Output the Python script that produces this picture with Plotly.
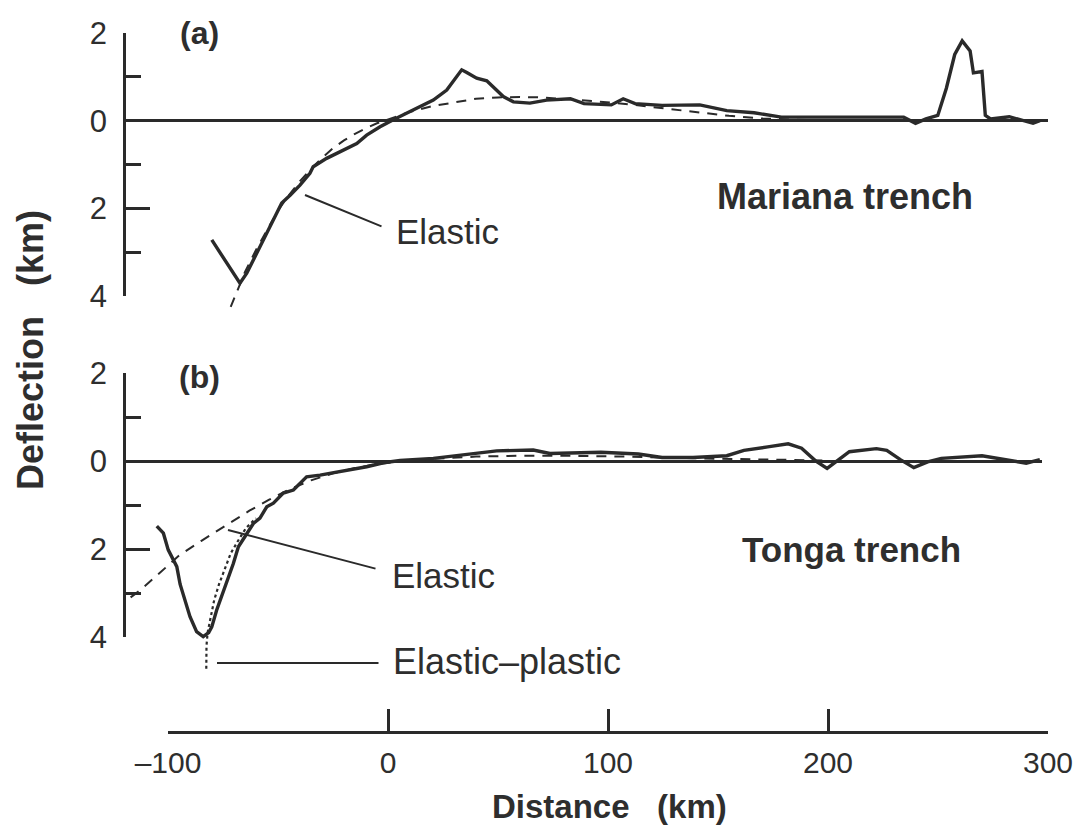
import plotly.graph_objects as go

# ---------------- data ----------------
# Panel (a) Mariana trench: observed profile (km distance, km deflection; positive = down)
mariana_x = [-80.1, -67.3, -64.2, -59.7, -56.7, -52.1, -48.3, -44.5, -40.0, -35.5, -34.0, -27.9,
             -21.8, -14.2, -9.7, -3.6, 2.4, 8.5, 14.5, 20.6, 26.7, 30.5, 33.5, 35.8, 40.3, 44.9,
             47.9, 52.4, 57.0, 64.5, 72.1, 82.9, 89.1, 101.5, 106.9, 112.3, 124.6, 141.7, 154.0,
             166.4, 178.8, 206.6, 234.4, 239.8, 244.5, 249.9, 253.8, 257.6, 261.0, 264.6, 266.1,
             270.0, 271.5, 273.9, 282.4, 293.2, 296.3]
mariana_y = [2.72, 3.71, 3.48, 3.03, 2.72, 2.30, 1.88, 1.70, 1.47, 1.20, 1.05, 0.86,
             0.71, 0.52, 0.33, 0.14, -0.02, -0.17, -0.32, -0.47, -0.70, -0.97, -1.16, -1.10, -0.97, -0.91,
             -0.76, -0.55, -0.43, -0.40, -0.47, -0.50, -0.39, -0.36, -0.50, -0.39, -0.35, -0.36, -0.23,
             -0.18, -0.08, -0.08, -0.08, 0.06, -0.04, -0.12, -0.74, -1.51, -1.82, -1.59, -1.09,
             -1.12, -0.12, -0.04, -0.09, 0.06, 0.00]

# Panel (a) elastic model (dashed)
mariana_elastic_x = [-71.5, -68, -65, -60, -55, -50, -45, -40, -35, -30, -25, -20, -15, -10, -5, 0,
                     10, 20, 30, 40, 50, 60, 70, 80, 95, 110, 125, 140, 155, 170, 185, 200]
mariana_elastic_y = [4.25, 3.8, 3.45, 2.95, 2.5, 2.05, 1.7, 1.38, 1.1, 0.85, 0.63, 0.45, 0.3, 0.17, 0.06, -0.03,
                     -0.2, -0.33, -0.42, -0.5, -0.53, -0.54, -0.53, -0.5, -0.44, -0.37, -0.28, -0.19, -0.11, -0.05, -0.02, 0.0]

# Panel (b) Tonga trench: observed profile
tonga_x = [-105.1, -102.1, -99.9, -97.6, -96.0, -94.5, -92.0, -90.0, -87.0, -84.0, -81.5, -80.1,
           -77.9, -75.5, -73.3, -70.3, -68.0, -64.2, -61.2, -58.2, -55.1, -52.1, -47.6, -43.0,
           -37.0, -30.9, -21.8, -9.7, -2.1, 5.5, 20.6, 28.2, 35.8, 49.4, 66.0, 73.6, 96.8, 113.8,
           124.6, 138.6, 154.0, 161.8, 172.6, 181.9, 188.0, 194.2, 199.6, 205.0, 209.7, 222.0,
           226.7, 232.9, 239.0, 245.3, 251.5, 270.0, 279.3, 290.1, 296.3]
tonga_y = [1.48, 1.64, 2.02, 2.25, 2.40, 2.80, 3.20, 3.54, 3.88, 3.99, 3.90, 3.77,
           3.39, 3.05, 2.78, 2.33, 1.95, 1.64, 1.42, 1.30, 1.04, 0.96, 0.73, 0.66,
           0.36, 0.32, 0.24, 0.13, 0.04, -0.01, -0.06, -0.10, -0.14, -0.23, -0.25, -0.17, -0.20, -0.16,
           -0.08, -0.08, -0.12, -0.24, -0.32, -0.39, -0.29, -0.01, 0.17, -0.03, -0.21, -0.28,
           -0.24, -0.03, 0.15, 0.02, -0.06, -0.12, -0.05, 0.05, -0.03]

# Panel (b) elastic model (dashed)
tonga_elastic_x = [-117, -113, -105, -95, -85, -75, -63, -54, -45, -35, -25, -15, -5, 5, 20, 40, 60, 80,
                   110, 140, 170, 200]
tonga_elastic_y = [3.1, 2.95, 2.6, 2.15, 1.82, 1.5, 1.13, 0.88, 0.65, 0.44, 0.28, 0.16, 0.07, 0.01, -0.05,
                   -0.1, -0.12, -0.12, -0.1, -0.06, -0.03, -0.01]

# Panel (b) elastic-plastic model (dotted)
tonga_ep_x = [-82.6, -82.5, -82.0, -80.5, -79.0, -76.8, -74.5, -71.5, -68.0, -64.5, -60.0]
tonga_ep_y = [4.72, 4.2, 3.9, 3.55, 3.16, 2.8, 2.5, 2.1, 1.8, 1.52, 1.3]

# axis ticks
x_tickvals = [-100, 0, 100, 200, 300]
x_ticktext = ["\u2013100", "0", "100", "200", "300"]
y_tickvals = [-2, 0, 2, 4]
y_ticktext = ["2", "0", "2", "4"]

# ---------------- layout helpers (pixel geometry) ----------------
W, H = 1081, 827
X0_PX, X_SCALE = 388.0, 2.2          # px of x=0, px per km
A0_PX, A_SCALE = 120.67, 43.83       # panel a: px of y=0, px per km
B0_PX, B_SCALE = 461.0, 44.0         # panel b

def fx(px):
    return px / W

def fy(py):
    return 1 - py / H

def xdata(px):
    return (px - X0_PX) / X_SCALE

def ydom(py_top, py_bot):
    return [fy(py_bot), fy(py_top)]

INK = "#2a2a2a"
TXT = "#2e2e2e"
FONT = "Liberation Sans, Arial, sans-serif"
DASH = "10px,8px"

fig = go.Figure()

common = dict(mode="lines", showlegend=False, hoverinfo="skip", xaxis="x")
fig.add_trace(go.Scatter(x=mariana_elastic_x, y=mariana_elastic_y, yaxis="y3",
                         line=dict(color=INK, width=2, dash=DASH), **common))
fig.add_trace(go.Scatter(x=mariana_x, y=mariana_y, yaxis="y3",
                         line=dict(color=INK, width=3.4), **common))
fig.add_trace(go.Scatter(x=tonga_elastic_x, y=tonga_elastic_y, yaxis="y4",
                         line=dict(color=INK, width=2, dash=DASH), **common))
fig.add_trace(go.Scatter(x=tonga_ep_x, y=tonga_ep_y, yaxis="y4",
                         line=dict(color=INK, width=2.2, dash="dot"), **common))
fig.add_trace(go.Scatter(x=tonga_x, y=tonga_y, yaxis="y4",
                         line=dict(color=INK, width=3.4), **common))
# empty traces so the visible axes are drawn
fig.add_trace(go.Scatter(x=[None], y=[None], yaxis="y", **common))
fig.add_trace(go.Scatter(x=[None], y=[None], yaxis="y2", **common))
fig.add_trace(go.Scatter(x=[None], y=[None], mode="lines", xaxis="x2", yaxis="y",
                         showlegend=False, hoverinfo="skip"))

xl_px, xr_px = 126, 1042

def vis_y(dom):
    return dict(domain=dom, range=[4, -2], anchor="x", automargin=False,
                showline=True, linecolor=INK, linewidth=2.5,
                ticks="inside", ticklen=24, tickwidth=2.5, tickcolor=INK,
                tickmode="array", tickvals=y_tickvals, ticktext=y_ticktext,
                tickfont=dict(family=FONT, size=31, color=TXT), ticklabelstandoff=10,
                showgrid=False, zeroline=True, zerolinecolor=INK, zerolinewidth=2.5,
                minor=dict(ticks="inside", ticklen=15, tickwidth=2.5, tickcolor=INK,
                           tickmode="linear", tick0=0, dtick=1, showgrid=False))

def data_y(py_top, py_bot, zero_px, scale):
    return dict(domain=ydom(py_top, py_bot),
                range=[(py_bot - zero_px) / scale, (py_top - zero_px) / scale],
                anchor="x", visible=False, showgrid=False, zeroline=False, automargin=False)

fig.update_layout(
    template="none",
    width=W, height=H,
    margin=dict(l=0, r=0, t=0, b=0, pad=0, autoexpand=False),
    paper_bgcolor="white", plot_bgcolor="rgba(0,0,0,0)",
    xaxis=dict(domain=[fx(xl_px), fx(xr_px)], range=[xdata(xl_px), xdata(xr_px)],
               visible=False, showgrid=False, zeroline=False, anchor="y", automargin=False),
    xaxis2=dict(domain=[fx(168), fx(1048)], range=[-100, 300], anchor="free", position=fy(732),
                automargin=False,
                showline=True, linecolor=INK, linewidth=2.5, ticks="inside", ticklen=22,
                tickwidth=2.5, tickcolor=INK, tickmode="array", tickvals=x_tickvals,
                ticktext=x_ticktext, tickfont=dict(family=FONT, size=30, color=TXT),
                ticklabelstandoff=3, showgrid=False, zeroline=False),
    yaxis=vis_y(ydom(33, 296)),
    yaxis2=vis_y(ydom(373, 637)),
    yaxis3=data_y(20, 330, A0_PX, A_SCALE),
    yaxis4=data_y(355, 700, B0_PX, B_SCALE),
    showlegend=False,
)

def label(text, px, py, size=31, bold=False, xanchor="center", angle=0):
    t = f"<b>{text}</b>" if bold else text
    fig.add_annotation(text=t, x=fx(px), y=fy(py), xref="paper", yref="paper",
                       xanchor=xanchor, yanchor="middle", showarrow=False, textangle=angle,
                       font=dict(family=FONT, size=size, color=TXT))

label("(a)", 199, 33, size=32, bold=True)
label("(b)", 199, 377, size=32, bold=True)
label("Mariana trench", 845, 196, size=36, bold=True)
label("Tonga trench", 851, 549, size=35, bold=True)
label("Elastic", 394, 232, size=35, xanchor="left")
label("Elastic", 390, 575, size=35, xanchor="left")
label("Elastic\u2013plastic", 391, 661, size=36, xanchor="left")
label("Distance\u00a0\u00a0\u00a0(km)", 609, 806, size=33, bold=True)
label("Deflection\u00a0\u00a0\u00a0(km)", 30, 350, size=36, bold=True, angle=-90)

def leader(x0px, y0, x1px, y1, yref):
    fig.add_annotation(x=xdata(x0px), y=y0, ax=xdata(x1px), ay=y1, xref="x", yref=yref,
                       axref="x", ayref=yref, text="", showarrow=True, arrowhead=0,
                       arrowwidth=2, arrowcolor=INK)

leader(305, (195 - A0_PX) / A_SCALE, 383, (227 - A0_PX) / A_SCALE, "y3")
leader(228, (530 - B0_PX) / B_SCALE, 377, (569 - B0_PX) / B_SCALE, "y4")
leader(217, (663 - B0_PX) / B_SCALE, 380, (663 - B0_PX) / B_SCALE, "y4")

fig.write_html("out.html")
